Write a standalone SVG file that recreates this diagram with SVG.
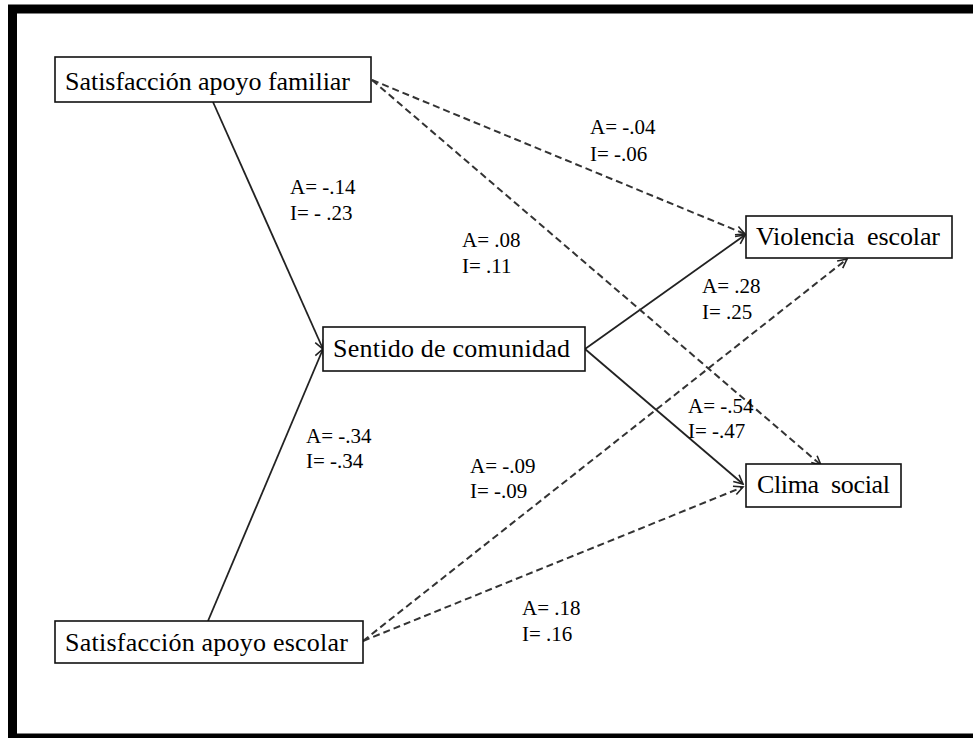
<svg xmlns="http://www.w3.org/2000/svg" width="973" height="738" viewBox="0 0 973 738">
<defs>
<style>
.frame{fill:none;stroke:#000;stroke-width:9}
.box{fill:#fff;stroke:#111;stroke-width:1.6}
.nt{font-family:"Liberation Serif","Times New Roman",serif;font-size:26px;fill:#000}
.lb{font-family:"Liberation Serif","Times New Roman",serif;font-size:21px;fill:#000}
.solid{fill:none;stroke:#222;stroke-width:1.8}
.dash{fill:none;stroke:#333;stroke-width:2;stroke-dasharray:7 4}
</style>
<marker id="arr" viewBox="-11 -7 13 14" refX="0" refY="0" markerWidth="13" markerHeight="14" markerUnits="userSpaceOnUse" orient="auto">
<path d="M-9,-4.5 L0,0 L-9,4.5" fill="none" stroke="#222" stroke-width="1.6"/>
</marker>
</defs>
<rect x="0" y="0" width="973" height="738" fill="#fff"/>
<rect class="frame" x="12.5" y="9" width="975" height="729"/>
<g id="connectors">
<path class="solid" d="M213,102 L323,349" marker-end="url(#arr)"/>
<path class="solid" d="M208,621 L323,349" marker-end="url(#arr)"/>
<path class="solid" d="M585,349 L745,235" marker-end="url(#arr)"/>
<path class="solid" d="M585,349 L743,484" marker-end="url(#arr)"/>
<path class="dash" d="M372,80 L745,234" marker-end="url(#arr)"/>
<path class="dash" d="M372,80 L821,465" marker-end="url(#arr)"/>
<path class="dash" d="M363,641 L847,259" marker-end="url(#arr)"/>
<path class="dash" d="M363,641 L743,487" marker-end="url(#arr)"/>
</g>
<g id="labels">
<text class="lb" x="590" y="134">A= -.04</text>
<text class="lb" x="590" y="161">I= -.06</text>
<text class="lb" x="290" y="194">A= -.14</text>
<text class="lb" x="290" y="220">I= - .23</text>
<text class="lb" x="462" y="247">A= .08</text>
<text class="lb" x="462" y="273">I= .11</text>
<text class="lb" x="702" y="293">A= .28</text>
<text class="lb" x="702" y="319">I= .25</text>
<text class="lb" x="688" y="413">A= -.54</text>
<text class="lb" x="688" y="438">I= -.47</text>
<text class="lb" x="306" y="443">A= -.34</text>
<text class="lb" x="306" y="468">I= -.34</text>
<text class="lb" x="470" y="473">A= -.09</text>
<text class="lb" x="470" y="498">I= -.09</text>
<text class="lb" x="522" y="615">A= .18</text>
<text class="lb" x="522" y="641">I= .16</text>
</g>
<g id="n-familiar">
<rect class="box" x="55" y="57" width="316" height="45"/>
<text class="nt" x="65" y="90" textLength="285">Satisfacción apoyo familiar</text>
</g>
<g id="n-sentido">
<rect class="box" x="323" y="327" width="262" height="44"/>
<text class="nt" x="333" y="357" textLength="237">Sentido de comunidad</text>
</g>
<g id="n-violencia">
<rect class="box" x="746" y="216" width="206" height="42"/>
<text class="nt" x="756" y="245" textLength="184" xml:space="preserve">Violencia  escolar</text>
</g>
<g id="n-clima">
<rect class="box" x="746" y="464" width="155" height="43"/>
<text class="nt" x="757" y="493" textLength="133" xml:space="preserve">Clima  social</text>
</g>
<g id="n-escolar">
<rect class="box" x="55" y="621" width="308" height="42"/>
<text class="nt" x="65" y="651" textLength="283">Satisfacción apoyo escolar</text>
</g>
</svg>
